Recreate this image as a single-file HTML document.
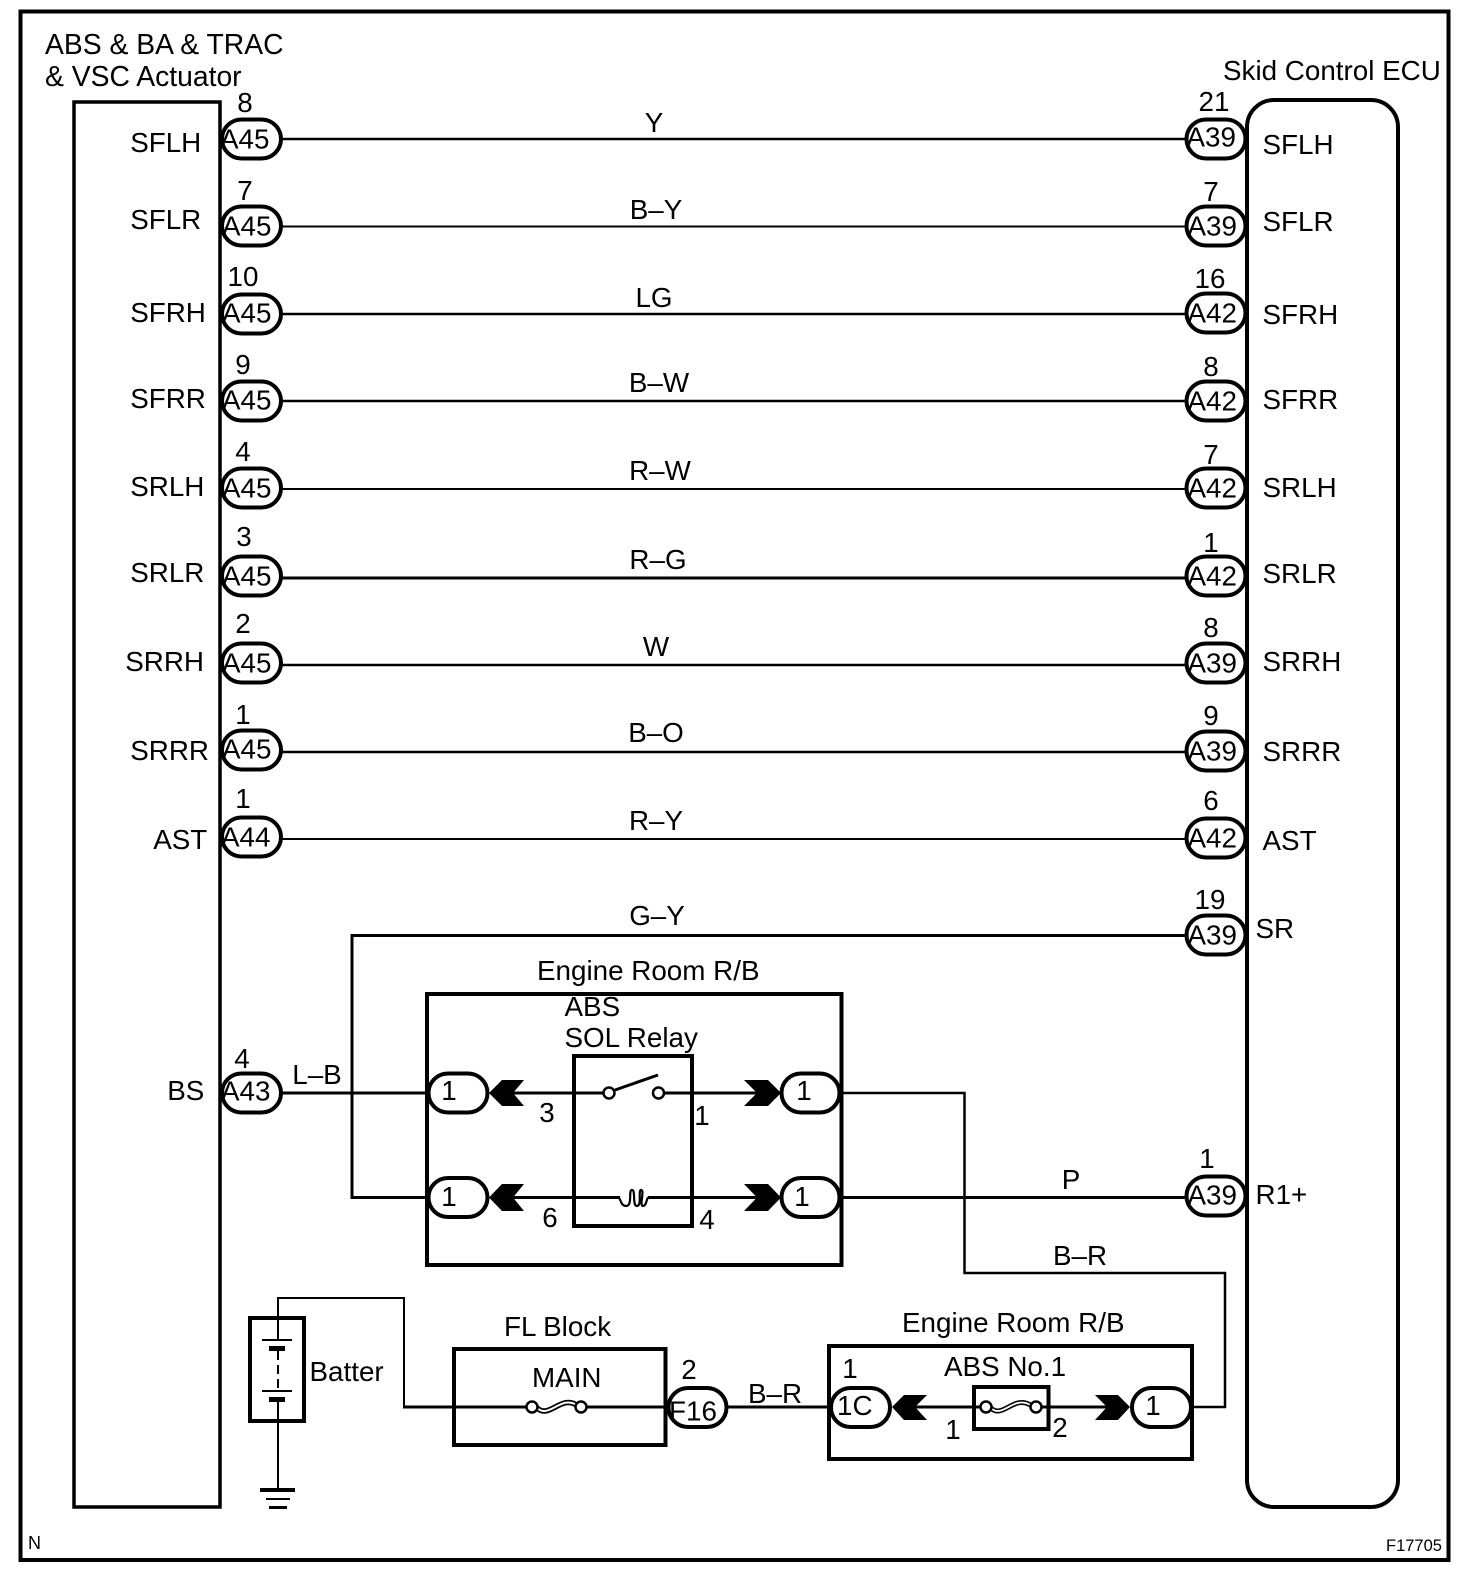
<!DOCTYPE html>
<html><head><meta charset="utf-8"><style>
html,body{margin:0;padding:0;background:#fff}
svg{display:block}
text{font-family:"Liberation Sans",sans-serif;font-size:27.8px;fill:#000}
.m{text-anchor:middle}
.p{font-size:27.8px}
.box{fill:none;stroke:#000;stroke-width:4}
.pill{fill:#fff;stroke:#000;stroke-width:4}
.w{fill:none;stroke:#000;stroke-width:3}
.t{fill:none;stroke:#000;stroke-width:2}
.c{fill:#fff;stroke:#000;stroke-width:2}
</style></head><body>
<svg width="1472" height="1578" viewBox="0 0 1472 1578" xmlns="http://www.w3.org/2000/svg">
<rect width="1472" height="1578" fill="#fff"/>
<rect x="20.5" y="11.5" width="1428" height="1548.5" class="box"/>
<text x="45" y="54" style="font-size:28.3px">ABS &amp; BA &amp; TRAC</text>
<text x="45" y="86" style="font-size:28.3px">&amp; VSC Actuator</text>
<text x="1223" y="80">Skid Control ECU</text>

<!-- wires -->
<path class="w" d="M281 139H1186" style="stroke-width:2.5"/>
<path class="t" d="M281 226.500H1186"/>
<path class="w" d="M281 314H1186" style="stroke-width:2.5"/>
<path class="w" d="M281 401H1186" style="stroke-width:2.500"/>
<path class="t" d="M281 489H1186"/>
<path class="w" d="M281 578H1186"/>
<path class="w" d="M281 665H1186" style="stroke-width:2.5"/>
<path class="w" d="M281 752H1186" style="stroke-width:2.5"/>
<path class="t" d="M281 839H1186"/>
<path class="w" d="M428 1197.500H352V935.500H1186"/>
<path class="w" d="M281 1093H428"/>
<path class="w" d="M840 1197.500H1186"/>
<path class="t" d="M840 1093H964.500V1273H1225V1407H1192" style="stroke-width:2.500"/>
<path class="t" d="M278 1318V1298H404V1407"/>
<path class="w" d="M403 1407H454"/>
<path class="w" d="M727 1407H830"/>

<rect x="74" y="102" width="146" height="1405" class="box" style="stroke-width:3.5"/>
<rect x="1247" y="100" width="151" height="1407" rx="27" class="box"/>

<!-- left pills -->
<rect class="pill" x="222" y="119.500" width="59" height="39" rx="19.500"/>
<rect class="pill" x="222" y="206.500" width="59" height="39" rx="19.500"/>
<rect class="pill" x="222" y="294.500" width="59" height="39" rx="19.500"/>
<rect class="pill" x="222" y="381.500" width="59" height="39" rx="19.500"/>
<rect class="pill" x="222" y="468.500" width="59" height="39" rx="19.500"/>
<rect class="pill" x="222" y="556.500" width="59" height="39" rx="19.500"/>
<rect class="pill" x="222" y="643.500" width="59" height="39" rx="19.500"/>
<rect class="pill" x="222" y="730.500" width="59" height="39" rx="19.500"/>
<rect class="pill" x="222" y="817.500" width="59" height="39" rx="19.500"/>
<rect class="pill" x="222" y="1073.500" width="59" height="39" rx="19.500"/>
<!-- right pills -->
<rect class="pill" x="1186.500" y="119.500" width="59" height="39" rx="19.500"/>
<rect class="pill" x="1186.500" y="206.500" width="59" height="39" rx="19.500"/>
<rect class="pill" x="1186.500" y="293.500" width="59" height="39" rx="19.500"/>
<rect class="pill" x="1186.500" y="381.500" width="59" height="39" rx="19.500"/>
<rect class="pill" x="1186.500" y="468.500" width="59" height="39" rx="19.500"/>
<rect class="pill" x="1186.500" y="556.500" width="59" height="39" rx="19.500"/>
<rect class="pill" x="1186.500" y="643.500" width="59" height="39" rx="19.500"/>
<rect class="pill" x="1186.500" y="731.500" width="59" height="39" rx="19.500"/>
<rect class="pill" x="1186.500" y="818.500" width="59" height="39" rx="19.500"/>
<rect class="pill" x="1186.500" y="915.500" width="59" height="39" rx="19.500"/>
<rect class="pill" x="1186.500" y="1176.500" width="59" height="39" rx="19.500"/>

<!-- left pill text -->
<g transform="translate(-2,-0.500)">
<text class="p" x="222" y="149">A45</text>
<text class="p" x="224" y="236">A45</text>
<text class="p" x="224" y="323">A45</text>
<text class="p" x="224" y="410">A45</text>
<text class="p" x="224" y="498">A45</text>
<text class="p" x="224" y="586">A45</text>
<text class="p" x="224" y="673">A45</text>
<text class="p" x="224" y="759">A45</text>
<text class="p" x="223" y="847">A44</text>
<text class="p" x="223" y="1101">A43</text>
</g>
<!-- right pill text -->
<g transform="translate(-1.500,-0.500)">
<text class="p" x="1188" y="147">A39</text>
<text class="p" x="1189" y="236">A39</text>
<text class="p" x="1189" y="323">A42</text>
<text class="p" x="1189" y="411">A42</text>
<text class="p" x="1189" y="498">A42</text>
<text class="p" x="1189" y="586">A42</text>
<text class="p" x="1189" y="673">A39</text>
<text class="p" x="1189" y="761">A39</text>
<text class="p" x="1189" y="848">A42</text>
<text class="p" x="1189" y="945">A39</text>
<text class="p" x="1189" y="1205">A39</text>
</g>

<!-- left signal labels -->
<g transform="translate(-0.800,-0.800)">
<text x="131" y="153">SFLH</text>
<text x="131" y="230">SFLR</text>
<text x="131" y="323">SFRH</text>
<text x="131" y="409">SFRR</text>
<text x="131" y="497">SRLH</text>
<text x="131" y="583">SRLR</text>
<text x="126" y="672">SRRH</text>
<text x="131" y="761">SRRR</text>
<text x="154" y="850">AST</text>
<text x="168" y="1101">BS</text>
</g>
<!-- right signal labels -->
<g transform="translate(-1.500,-0.800)">
<text x="1264" y="155">SFLH</text>
<text x="1264" y="232">SFLR</text>
<text x="1264" y="325">SFRH</text>
<text x="1264" y="410">SFRR</text>
<text x="1264" y="498">SRLH</text>
<text x="1264" y="584">SRLR</text>
<text x="1264" y="672">SRRH</text>
<text x="1264" y="762">SRRR</text>
<text x="1264" y="851">AST</text>
<text x="1257" y="939">SR</text>
<text x="1257" y="1205">R1+</text>
</g>

<!-- pin numbers left -->
<text class="m" x="245" y="112">8</text>
<text class="m" x="245" y="200">7</text>
<text class="m" x="243" y="286">10</text>
<text class="m" x="243" y="374">9</text>
<text class="m" x="243" y="461">4</text>
<text class="m" x="244" y="546">3</text>
<text class="m" x="243" y="633">2</text>
<text class="m" x="243" y="724">1</text>
<text class="m" x="243" y="808">1</text>
<text class="m" x="242" y="1068">4</text>
<!-- pin numbers right -->
<text class="m" x="1214" y="111">21</text>
<text class="m" x="1211" y="201">7</text>
<text class="m" x="1210" y="288">16</text>
<text class="m" x="1211" y="376">8</text>
<text class="m" x="1211" y="464">7</text>
<text class="m" x="1211" y="552">1</text>
<text class="m" x="1211" y="637">8</text>
<text class="m" x="1211" y="725">9</text>
<text class="m" x="1211" y="810">6</text>
<text class="m" x="1210" y="909">19</text>
<text class="m" x="1207" y="1168">1</text>

<!-- wire labels -->
<text class="m" x="654" y="132">Y</text>
<text class="m" x="656" y="219">B–Y</text>
<text class="m" x="654" y="307">LG</text>
<text class="m" x="659" y="392">B–W</text>
<text class="m" x="660" y="480">R–W</text>
<text class="m" x="658" y="569">R–G</text>
<text class="m" x="656" y="656">W</text>
<text class="m" x="656" y="742">B–O</text>
<text class="m" x="656" y="830">R–Y</text>
<text class="m" x="657" y="925">G–Y</text>
<text class="m" x="317" y="1084">L–B</text>
<text class="m" x="1071" y="1189">P</text>
<text class="m" x="1080" y="1265">B–R</text>
<text class="m" x="775" y="1403">B–R</text>

<!-- Engine Room R/B upper -->
<text x="537" y="980">Engine Room R/B</text>
<rect x="427" y="994" width="414.500" height="271" class="box"/>
<text x="564.500" y="1016">ABS</text>
<text x="564.500" y="1047">SOL Relay</text>
<path class="w" d="M513 1093H757M513 1197.500H757"/>
<rect x="574" y="1056" width="118" height="170" class="box" style="fill:none"/>
<rect x="615" y="1085" width="38" height="16" fill="#fff"/>
<circle cx="609" cy="1093" r="5.500" class="c" style="stroke-width:2.500"/>
<circle cx="658.500" cy="1093" r="5.500" class="c" style="stroke-width:2.500"/>
<path class="w" d="M615 1090L658 1075"/>
<rect x="620" y="1192" width="28" height="12" fill="#fff"/>
<path d="M618 1197.500C621 1197.500 620 1206 626 1206C633 1206 628 1190 632 1190C636 1190 632 1206 637 1206C642 1206 638 1190 641 1190C645 1190 639 1206 643 1206C647 1206 646 1197.500 649 1197.500" fill="none" stroke="#000" stroke-width="2.200"/>
<rect class="pill" x="428.500" y="1073.500" width="59" height="39" rx="19.500"/>
<rect class="pill" x="428.500" y="1178" width="59" height="39" rx="19.500"/>
<rect class="pill" x="781.500" y="1073.500" width="58" height="39" rx="19.500"/>
<rect class="pill" x="781.500" y="1178" width="58" height="39" rx="19.500"/>
<polygon points="489,1093 502,1080 524,1080 513,1093 524,1106 502,1106"/>
<polygon points="489,1197.500 502,1184 524,1184 513,1197.500 524,1211 502,1211"/>
<polygon points="781,1093 768,1080 744,1080 757,1093 744,1106 768,1106"/>
<polygon points="781,1197.500 768,1184 744,1184 757,1197.500 744,1211 768,1211"/>
<text class="m" x="449" y="1100">1</text>
<text class="m" x="449" y="1206">1</text>
<text class="m" x="804" y="1100">1</text>
<text class="m" x="802" y="1206">1</text>
<text class="m" x="547" y="1122">3</text>
<text class="m" x="702" y="1125">1</text>
<text class="m" x="550" y="1227">6</text>
<text class="m" x="707" y="1229">4</text>

<!-- Battery -->
<rect x="250" y="1318" width="54" height="103" class="box"/>
<path class="t" d="M278 1318V1340M262 1340H292"/>
<rect x="269" y="1346" width="16" height="5"/>
<path class="t" d="M278 1351V1388" stroke-dasharray="9 5"/>
<path class="t" d="M262 1391H292M278 1399V1490"/>
<rect x="269" y="1397" width="16" height="5"/>
<rect x="260" y="1488" width="35" height="4"/>
<rect x="266" y="1498" width="24" height="2"/>
<rect x="269" y="1506" width="18" height="3"/>
<text x="309.500" y="1381">Batter</text>

<!-- FL Block -->
<text x="504" y="1336">FL Block</text>
<rect x="454" y="1349" width="211.500" height="96" class="box"/>
<text x="532" y="1387">MAIN</text>
<path class="w" d="M454 1407H667"/>
<rect x="536" y="1397" width="42" height="20" fill="#fff"/>
<path d="M536 1407C549 1421 561 1393 578 1406" fill="none" stroke="#000" stroke-width="5.500"/>
<path d="M536 1407C549 1421 561 1393 578 1406" fill="none" stroke="#fff" stroke-width="2"/>
<circle cx="532" cy="1407" r="5.500" class="c" style="stroke-width:2.500"/>
<circle cx="581" cy="1407" r="5.500" class="c" style="stroke-width:2.500"/>
<rect class="pill" x="668.500" y="1388" width="58" height="39" rx="19.500"/>
<text x="669" y="1420.500">F16</text>
<text class="m" x="689" y="1379">2</text>

<!-- Engine Room R/B lower -->
<text x="902" y="1332">Engine Room R/B</text>
<rect x="829" y="1346" width="363" height="113" class="box"/>
<text x="944" y="1376">ABS No.1</text>
<path class="w" d="M915 1407H1107"/>
<rect x="974" y="1387" width="74.500" height="42" class="box" style="fill:none"/>
<rect x="986" y="1397" width="50" height="20" fill="#fff"/>
<path d="M990 1407C1002 1421 1014 1393 1032 1406" fill="none" stroke="#000" stroke-width="5"/>
<path d="M990 1407C1002 1421 1014 1393 1032 1406" fill="none" stroke="#fff" stroke-width="1.800"/>
<circle cx="986" cy="1407" r="5.500" class="c" style="stroke-width:2.500"/>
<circle cx="1036" cy="1407" r="5.500" class="c" style="stroke-width:2.500"/>
<rect class="pill" x="831" y="1388" width="59" height="39" rx="19.500"/>
<rect class="pill" x="1132" y="1388" width="59" height="39" rx="19.500"/>
<polygon points="892,1407 904,1395 927,1395 915,1407 927,1420 904,1420"/>
<polygon points="1130,1407 1118,1395 1095,1395 1107,1407 1095,1420 1118,1420"/>
<text x="837" y="1415">1C</text>
<text class="m" x="850" y="1378">1</text>
<text class="m" x="953" y="1439">1</text>
<text class="m" x="1060" y="1437">2</text>
<text class="m" x="1153" y="1415">1</text>

<text x="28" y="1549" style="font-size:18px">N</text>
<text x="1386" y="1551" style="font-size:16.500px">F17705</text>
</svg>
</body></html>
